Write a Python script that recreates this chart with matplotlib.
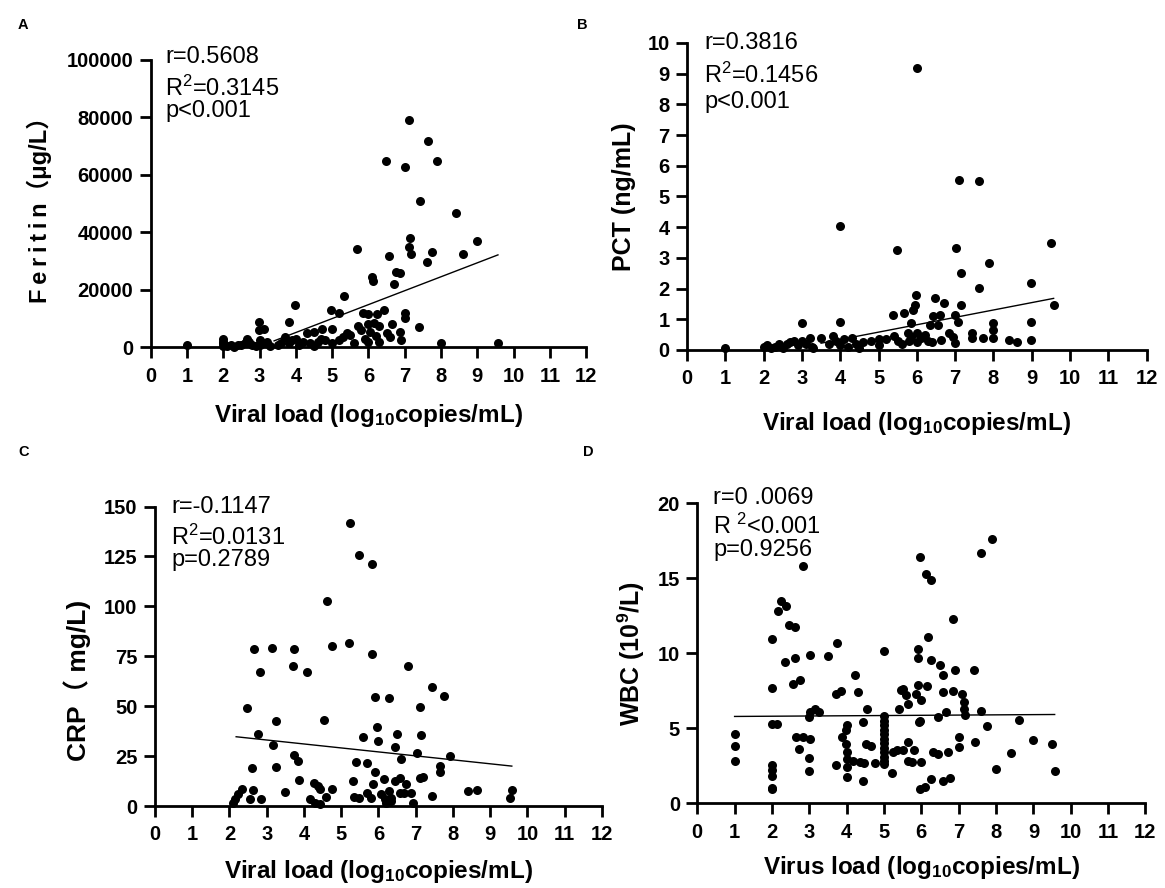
import matplotlib
matplotlib.use('Agg')
from matplotlib import pyplot as plt

plt.rcParams['font.family'] = ['Liberation Sans', 'Noto Sans CJK SC', 'DejaVu Sans']
plt.rcParams['mathtext.fontset'] = 'custom'
plt.rcParams['mathtext.rm'] = 'Liberation Sans'
plt.rcParams['mathtext.it'] = 'Liberation Sans'
plt.rcParams['mathtext.bf'] = 'Liberation Sans:bold'

# A: ferritin (ug/L) vs viral load
a_x = [1.0, 2.0, 2.0, 2.0, 2.0, 2.1, 2.2, 2.3, 2.4, 2.5, 2.6, 2.65, 2.7, 2.8, 2.9,
       3.0, 3.0, 2.98, 3.12, 2.98, 3.1, 3.2, 3.3, 3.5, 3.6, 3.7, 3.8, 3.82, 3.9, 3.98,
       4.0, 4.1, 4.2, 4.3, 4.4, 4.5, 4.5, 4.6, 4.7, 4.72, 4.8, 5.0, 5.0, 4.98, 5.18,
       5.2, 5.3, 5.33, 5.4, 5.5, 5.6, 5.68, 5.7, 5.8, 5.84, 5.9, 5.98, 6.0, 6.0, 6.05,
       6.1, 6.12, 6.15, 6.2, 6.23, 6.3, 6.3, 6.44, 6.5, 6.48, 6.56, 6.6, 6.65, 6.7, 6.76,
       6.86, 6.86, 6.9, 7.0, 7.0, 7.02, 7.11, 7.12, 7.14, 7.17, 7.4, 7.43, 7.61, 7.63, 7.74,
       7.9, 7.99, 8.41, 8.61, 9.0, 9.57]
a_y = [1000, 500, 1500, 3000, 2000, 500, 1000, 300, 1000, 800, 1500, 3000, 2000, 1000, 500,
       2500, 1000, 9000, 6300, 6000, 1500, 2000, 500, 1000, 1500, 3500, 1500, 8800, 2500, 14900,
       3000, 1000, 2000, 5000, 1500, 5500, 500, 2000, 3000, 6300, 2500, 6300, 1500, 12900, 12100,
       2500, 3500, 17800, 5000, 4500, 1500, 34100, 7500, 6000, 12100, 3000, 11800, 8000, 2000, 5500,
       24500, 23000, 8500, 4000, 11800, 7500, 2000, 12900, 5000, 65000, 31700, 3500, 8000, 22200, 26400,
       25900, 5400, 2500, 12100, 10300, 62900, 34800, 79100, 37900, 32500, 7100, 50900, 29700, 71800, 33300,
       64900, 1700, 46800, 32500, 37100, 1500]
a_fit_x = [3.4, 9.57]
a_fit_y = [2300, 32200]

# B: PCT (ng/mL) vs viral load
b_x = [1.0, 2.0, 2.1, 2.2, 2.3, 2.4, 2.5, 2.6, 2.7, 2.8, 2.9, 3.0, 3.0, 3.1, 3.2,
       3.25, 3.3, 3.5, 3.7, 3.8, 3.9, 4.0, 4.0, 4.0, 4.1, 4.2, 4.3, 4.4, 4.5, 4.6,
       4.8, 5.0, 5.0, 5.2, 5.38, 5.4, 5.48, 5.5, 5.6, 5.67, 5.77, 5.8, 5.86, 5.86, 5.9,
       5.94, 5.99, 6.0, 6.0, 6.0, 6.1, 6.2, 6.3, 6.35, 6.4, 6.43, 6.47, 6.55, 6.6, 6.63,
       6.7, 6.84, 6.94, 6.99, 6.99, 7.02, 7.08, 7.11, 7.14, 7.16, 7.43, 7.43, 7.61, 7.62, 7.72,
       7.88, 7.98, 7.98, 7.98, 8.4, 8.62, 8.98, 8.98, 8.98, 9.5, 9.57]
b_y = [0.05, 0.1, 0.15, 0.05, 0.1, 0.2, 0.05, 0.2, 0.25, 0.3, 0.15, 0.3, 0.87, 0.2, 0.4,
       0.1, 0.05, 0.4, 0.2, 0.45, 0.3, 0.15, 0.9, 4.03, 0.35, 0.1, 0.4, 0.2, 0.05, 0.25,
       0.3, 0.35, 0.15, 0.35, 1.14, 0.45, 3.26, 0.3, 0.2, 1.2, 0.54, 0.3, 0.43, 0.87, 1.3,
       1.47, 1.79, 9.2, 0.25, 0.55, 0.4, 0.5, 0.3, 0.82, 0.25, 1.09, 1.68, 0.82, 1.14, 0.33,
       1.52, 0.54, 0.43, 0.22, 1.14, 3.32, 0.92, 5.54, 1.47, 2.52, 0.54, 0.38, 5.49, 2.01, 0.38,
       2.83, 0.87, 0.65, 0.38, 0.33, 0.27, 2.17, 0.92, 0.33, 3.48, 1.47]
b_fit_x = [3.5, 9.57]
b_fit_y = [0.22, 1.68]

# C: CRP (mg/L) vs viral load
c_x = [5.24, 5.49, 5.82, 4.61, 5.2, 4.74, 2.65, 3.13, 3.73, 3.7, 4.08, 2.82, 5.83, 6.79, 7.43,
       7.77, 5.9, 6.28, 2.47, 7.11, 3.24, 4.55, 5.96, 2.76, 6.5, 7.14, 5.59, 5.99, 3.18, 6.44,
       7.03, 7.91, 3.73, 3.83, 6.6, 5.39, 5.69, 7.64, 7.64, 2.6, 3.25, 5.9, 3.87, 5.33, 5.86,
       6.14, 6.44, 6.58, 6.74, 7.11, 7.2, 4.27, 4.39, 4.42, 4.75, 3.5, 2.35, 2.24, 2.14, 2.09,
       2.63, 2.56, 2.85, 4.15, 4.29, 4.44, 4.59, 5.34, 5.49, 5.69, 5.79, 6.08, 6.18, 6.28, 6.33,
       6.58, 6.68, 6.88, 6.93, 6.21, 6.33, 7.43, 8.4, 8.64, 9.58, 9.54]
c_y = [141.5, 125.6, 121.4, 102.6, 81.7, 80.3, 78.5, 79.3, 78.8, 70.3, 67.0, 67.3, 76.3, 70.0, 59.8,
       55.0, 54.8, 54.3, 49.3, 49.6, 42.8, 43.1, 39.4, 36.2, 35.9, 35.6, 34.6, 32.6, 30.7, 29.6,
       26.4, 25.2, 25.6, 22.5, 23.4, 22.0, 21.5, 20.0, 17.0, 18.9, 19.4, 17.2, 12.9, 12.5, 11.2,
       13.4, 12.5, 13.9, 10.9, 13.9, 14.5, 11.7, 10.0, 8.4, 8.7, 7.2, 8.4, 5.8, 3.3, 1.7,
       7.9, 3.3, 3.3, 3.7, 1.7, 0.8, 4.5, 4.5, 4.2, 6.7, 4.2, 5.8, 3.3, 7.5, 3.8,
       6.7, 6.7, 6.7, 1.3, 1.7, 2.5, 5.0, 7.5, 7.9, 7.9, 4.2]
c_fit_x = [2.18, 9.58]
c_fit_y = [34.7, 20.0]

# D: WBC (10^9/L) vs virus load
d_x = [1.0, 1.0, 1.0, 2.0, 2.0, 2.0, 2.13, 2.0, 2.0, 2.0, 2.0, 2.0, 2.15, 2.24, 2.37,
       2.34, 2.46, 2.62, 2.61, 2.56, 2.76, 2.84, 2.64, 2.72, 2.84, 3.01, 3.01, 3.0, 3.03, 3.16,
       3.26, 3.0, 3.0, 3.51, 3.74, 3.72, 3.84, 3.72, 3.88, 4.0, 3.99, 3.99, 4.01, 4.0, 4.01,
       4.01, 4.22, 4.3, 4.18, 4.35, 4.45, 4.55, 4.53, 4.65, 4.45, 4.47, 4.75, 5.0, 5.0, 5.0,
       5.0, 5.0, 5.0, 5.0, 5.0, 5.0, 5.0, 5.0, 5.0, 5.0, 5.21, 5.4, 5.45, 5.5, 5.25, 5.35,
       5.5, 5.6, 5.65, 5.65, 5.65, 5.75, 5.8, 5.85, 5.9, 5.9, 5.93, 5.97, 5.97, 5.91, 6.0,
       6.0, 5.97, 6.1, 6.13, 6.25, 6.17, 6.14, 6.25, 6.27, 6.3, 6.44, 6.44, 6.49, 6.59, 6.59,
       6.59, 6.77, 6.66, 6.72, 6.84, 6.89, 6.86, 7.0, 7.0, 7.09, 7.14, 7.14, 7.16, 7.42, 7.44,
       7.61, 7.61, 7.9, 7.76, 8.01, 8.41, 8.62, 8.99, 9.51, 9.57]
d_y = [4.63, 3.79, 2.81, 10.98, 7.71, 5.3, 5.3, 2.52, 2.23, 1.85, 1.02, 0.96, 12.81, 13.47, 13.14,
       9.42, 11.92, 11.76, 9.71, 7.97, 8.2, 15.81, 4.41, 3.63, 4.41, 4.3, 9.91, 5.75, 6.08, 6.3,
       6.08, 3.0, 2.18, 9.8, 10.69, 7.3, 7.48, 2.52, 4.41, 5.19, 4.9, 3.92, 3.41, 2.96, 2.41,
       1.78, 8.53, 7.42, 2.85, 2.74, 5.41, 6.3, 3.96, 3.85, 1.51, 2.67, 2.67, 10.13, 5.8, 5.5,
       5.2, 4.9, 4.6, 4.3, 4.0, 3.7, 3.4, 3.1, 2.8, 2.6, 2.0, 6.3, 7.53, 7.64, 3.41, 3.52,
       3.56, 7.19, 6.64, 4.08, 2.85, 2.74, 3.52, 7.3, 9.71, 7.86, 5.41, 5.46, 16.44, 10.31, 2.74,
       6.9, 0.96, 1.07, 15.28, 14.92, 11.09, 7.84, 9.53, 1.63, 3.41, 3.3, 5.75, 9.2, 8.53, 7.42,
       1.51, 1.69, 6.08, 3.41, 12.27, 8.86, 7.48, 3.74, 4.41, 7.3, 6.75, 6.3, 5.86, 8.86, 4.08,
       6.15, 16.7, 17.6, 5.14, 2.29, 3.36, 5.52, 4.25, 3.92, 2.18]
d_fit_x = [1.0, 9.57]
d_fit_y = [5.79, 5.92]

ts = '\u2009'
panels = [
    dict(letter='A', x=a_x, y=a_y, fx=a_fit_x, fy=a_fit_y,
         ymax=100000, ystep=20000, ylabel=ts.join('Feritin') + '（μg/L）', ysize=17, yly=0.5,
         xlabel=r'Viral load (log$_{\mathbf{10}}$copies/mL)', xpad=11.5,
         stats=['r=0.5608', r'R$^2$=0.3145', 'p<0.001'],
         rect=[0.1294, 0.6087, 0.3737, 0.3238], tx=0.033, ty=[1.011, 0.902, 0.822],
         lx=(18, 25), ylx=-0.227),
    dict(letter='B', x=b_x, y=b_y, fx=b_fit_x, fy=b_fit_y,
         ymax=10, ystep=1, ylabel='PCT (ng/mL)', ysize=18, yly=0.5,
         xlabel=r'Viral load (log$_{\mathbf{10}}$copies/mL)', xpad=15.5,
         stats=['r=0.3816', r'R$^2$=0.1456', 'p<0.001'],
         rect=[0.5897, 0.6059, 0.3946, 0.3457], tx=0.037, ty=[0.999, 0.896, 0.807],
         lx=(577, 25), ylx=-0.111),
    dict(letter='C', x=c_x, y=c_y, fx=c_fit_x, fy=c_fit_y,
         ymax=150, ystep=25, ylabel='CRP（ mg/L)', ysize=19, yly=0.42,
         xlabel=r'Viral load (log$_{\mathbf{10}}$copies/mL)', xpad=9.5,
         stats=['r=-0.1147', r'R$^2$=0.0131', 'p=0.2789'],
         rect=[0.1330, 0.0923, 0.3837, 0.3373], tx=0.037, ty=[0.997, 0.896, 0.822],
         lx=(18, 452), ylx=-0.144),
    dict(letter='D', x=d_x, y=d_y, fx=d_fit_x, fy=d_fit_y,
         ymax=20, ystep=5, ylabel=r'WBC (10$^{\mathbf{9}}$/L)', ysize=18, yly=0.5,
         xlabel=r'Virus load (log$_{\mathbf{10}}$copies/mL)', xpad=9,
         stats=['r=0 .0069', r'R $^2$<0.001', 'p=0.9256'],
         rect=[0.5985, 0.0954, 0.3847, 0.3378], tx=0.036, ty=[1.017, 0.922, 0.844],
         lx=(583, 452), ylx=-0.112),
]

fig = plt.figure(figsize=(11.65, 8.88), dpi=100)

for p in panels:
    ax = fig.add_axes(p['rect'])
    ax.plot(p['x'], p['y'], 'o', color='black', ms=6.5, mew=0, clip_on=False, zorder=3)
    ax.plot(p['fx'], p['fy'], '-', color='black', lw=1.0, zorder=2)
    ax.set_xlim(0, 12)
    ax.set_ylim(0, p['ymax'])
    ax.set_xticks(range(0, 13))
    yt = [p['ystep'] * i for i in range(int(round(p['ymax'] / p['ystep'])) + 1)]
    ax.set_yticks(yt)
    for side in ['top', 'right']:
        ax.spines[side].set_visible(False)
    for side in ['left', 'bottom']:
        ax.spines[side].set_linewidth(2)
    ax.tick_params(width=2, length=8, labelsize=14.5, pad=4.5)
    ax.tick_params(axis='x', pad=6)
    for lab in ax.get_xticklabels() + ax.get_yticklabels():
        lab.set_fontweight('bold')
    ax.set_xlabel(p['xlabel'], fontsize=17.5, fontweight='bold', labelpad=p['xpad'])
    ax.set_ylabel(p['ylabel'], fontsize=p['ysize'], fontweight='bold')
    ax.yaxis.set_label_coords(p['ylx'], p['yly'])
    for s, yy in zip(p['stats'], p['ty']):
        ax.text(p['tx'], yy, s, transform=ax.transAxes, fontsize=17, va='center', ha='left')
    fig.text(p['lx'][0] / 1165, 1 - p['lx'][1] / 888, p['letter'], fontsize=10.5,
             fontweight='bold', va='center', ha='left')

plt.savefig('out.png', dpi=100)
